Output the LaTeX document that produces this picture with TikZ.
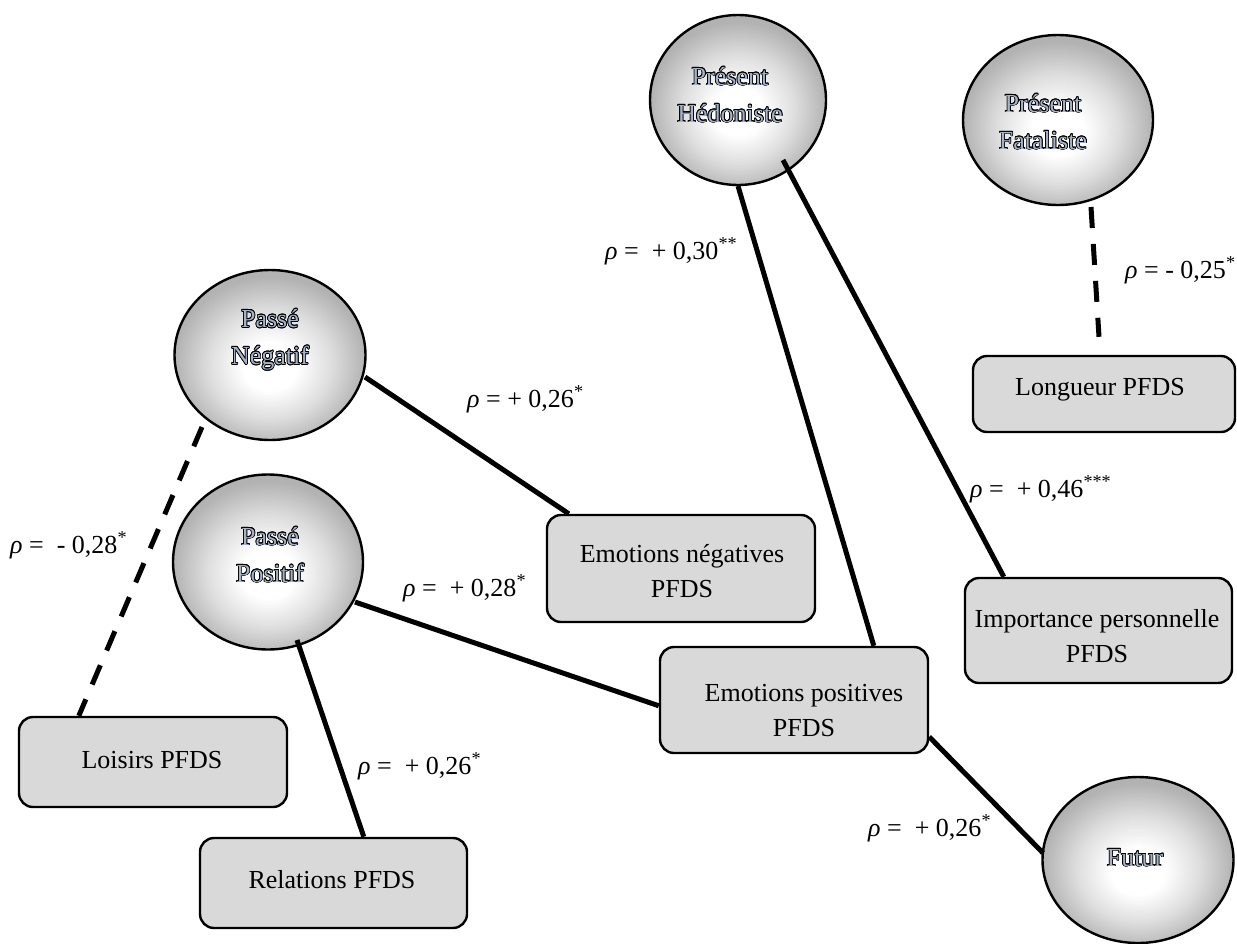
\documentclass[tikz,border=0pt]{standalone}
\usepackage{fontspec}
\setmainfont{Liberation Serif}
\usepackage{contour}
\usetikzlibrary{shapes.geometric}
\contourlength{0.7pt}
\definecolor{ovalink}{RGB}{165,178,200}
\pgfdeclareradialshading{ballshade}{\pgfpoint{0bp}{-4bp}}{color(0bp)=(white); color(7bp)=(white); color(16bp)=(black!13); color(25bp)=(black!30); color(50bp)=(black!30)}
\newcommand{\ovtxt}[1]{\contour{black}{\textcolor{ovalink}{#1}}}
\begin{document}
\begin{tikzpicture}[x=1pt,y=-1pt,
  oval/.style={ellipse, draw, line width=2.4pt, shading=ballshade, inner sep=0pt},
  pbox/.style={draw, line width=2.4pt, fill=gray!30, rounded corners=14pt, inner sep=0pt},
  boxtext/.style={font=\fontsize{26}{35}\selectfont, align=center, inner sep=0pt},
  ovallbl/.style={font=\fontsize{26}{37}\selectfont, align=center, inner sep=0pt},
  link/.style={line width=5pt},
  dlink/.style={line width=5pt, dash pattern=on 21pt off 16pt},
  corr/.style={font=\fontsize{26}{30}\selectfont, anchor=base west, inner sep=0pt}]
\useasboundingbox (0,0) rectangle (1237,943);

% ovals
\node[oval, minimum width=176pt, minimum height=170pt] (ph) at (738,100) {};
\node[ovallbl] (pht) at (730,95) {\ovtxt{Présent}\\\ovtxt{Hédoniste}};
\node[oval, minimum width=190pt, minimum height=170pt] (pf) at (1058,120) {};
\node[ovallbl] (pft) at (1043,122) {\ovtxt{Présent}\\\ovtxt{Fataliste}};
\node[oval, minimum width=191pt, minimum height=170pt] (pn) at (270,355) {};
\node[ovallbl] (pnt) at (270,340) {\ovtxt{Passé}\\\ovtxt{Négatif}};
\node[oval, minimum width=190pt, minimum height=175pt] (pp) at (268,562) {};
\node[ovallbl] (ppt) at (270,555) {\ovtxt{Passé}\\\ovtxt{Positif}};
\node[oval, minimum width=191pt, minimum height=166pt] (fu) at (1138,860) {};
\node[ovallbl] (fut) at (1135,858) {\ovtxt{Futur}};

% boxes
\node[pbox, minimum width=262pt, minimum height=76pt] (lon) at (1104,394) {};
\node[boxtext] (lont) at (1100,390) {Longueur PFDS};
\node[pbox, minimum width=267pt, minimum height=105pt] (imp) at (1098.5,630.5) {};
\node[boxtext] (impt) at (1097,636) {Importance personnelle\\PFDS};
\node[pbox, minimum width=268pt, minimum height=107pt] (en) at (681,568.5) {};
\node[boxtext] (ent) at (682,571) {Emotions négatives\\PFDS};
\node[pbox, minimum width=268pt, minimum height=106pt] (ep) at (794,700) {};
\node[boxtext] (ept) at (804,711) {Emotions positives\\PFDS};
\node[pbox, minimum width=268pt, minimum height=90pt] (loi) at (153,762) {};
\node[boxtext] (loit) at (152,760) {Loisirs PFDS};
\node[pbox, minimum width=267pt, minimum height=90pt] (rel) at (333.5,883) {};
\node[boxtext] (relt) at (332,880) {Relations PFDS};

% connectors
\draw[dlink] ([shift={(33,87)}]pf.center) -- ([shift={(-5,-18)}]lon.north);
\draw[link] ([shift={(45,60)}]ph.center) -- ([shift={(40,0)}]imp.north west);
\draw[link] ([shift={(0,86)}]ph.center) -- ([shift={(215,0)}]ep.north west);
\draw[link] ([shift={(95,22)}]pn.center) -- ([shift={(23,0)}]en.north west);
\draw[dlink] ([shift={(-68,72)}]pn.center) -- ([shift={(61,0)}]loi.north west);
\draw[link] ([shift={(87,40)}]pp.center) -- ([shift={(0,60)}]ep.north west);
\draw[link] ([shift={(29,78)}]pp.center) -- ([shift={(165,0)}]rel.north west);
\draw[link] ([shift={(0,91)}]ep.north east) -- ([shift={(-95,-7)}]fu.center);

% correlation labels
\node[corr] (c1) at (1125,278) {\textit{ρ} = - 0,25\textsuperscript{*}};
\node[corr] (c2) at (970,497) {\textit{ρ} =\ \ + 0,46\textsuperscript{***}};
\node[corr] (c3) at (605,259) {\textit{ρ} =\ \ + 0,30\textsuperscript{**}};
\node[corr] (c4) at (467,407) {\textit{ρ} = + 0,26\textsuperscript{*}};
\node[corr] (c5) at (403,596) {\textit{ρ} =\ \ + 0,28\textsuperscript{*}};
\node[corr] (c6) at (10,553) {\textit{ρ} =\ \ - 0,28\textsuperscript{*}};
\node[corr] (c7) at (358,774) {\textit{ρ} =\ \ + 0,26\textsuperscript{*}};
\node[corr] (c8) at (868,836) {\textit{ρ} =\ \ + 0,26\textsuperscript{*}};
\end{tikzpicture}
\end{document}
